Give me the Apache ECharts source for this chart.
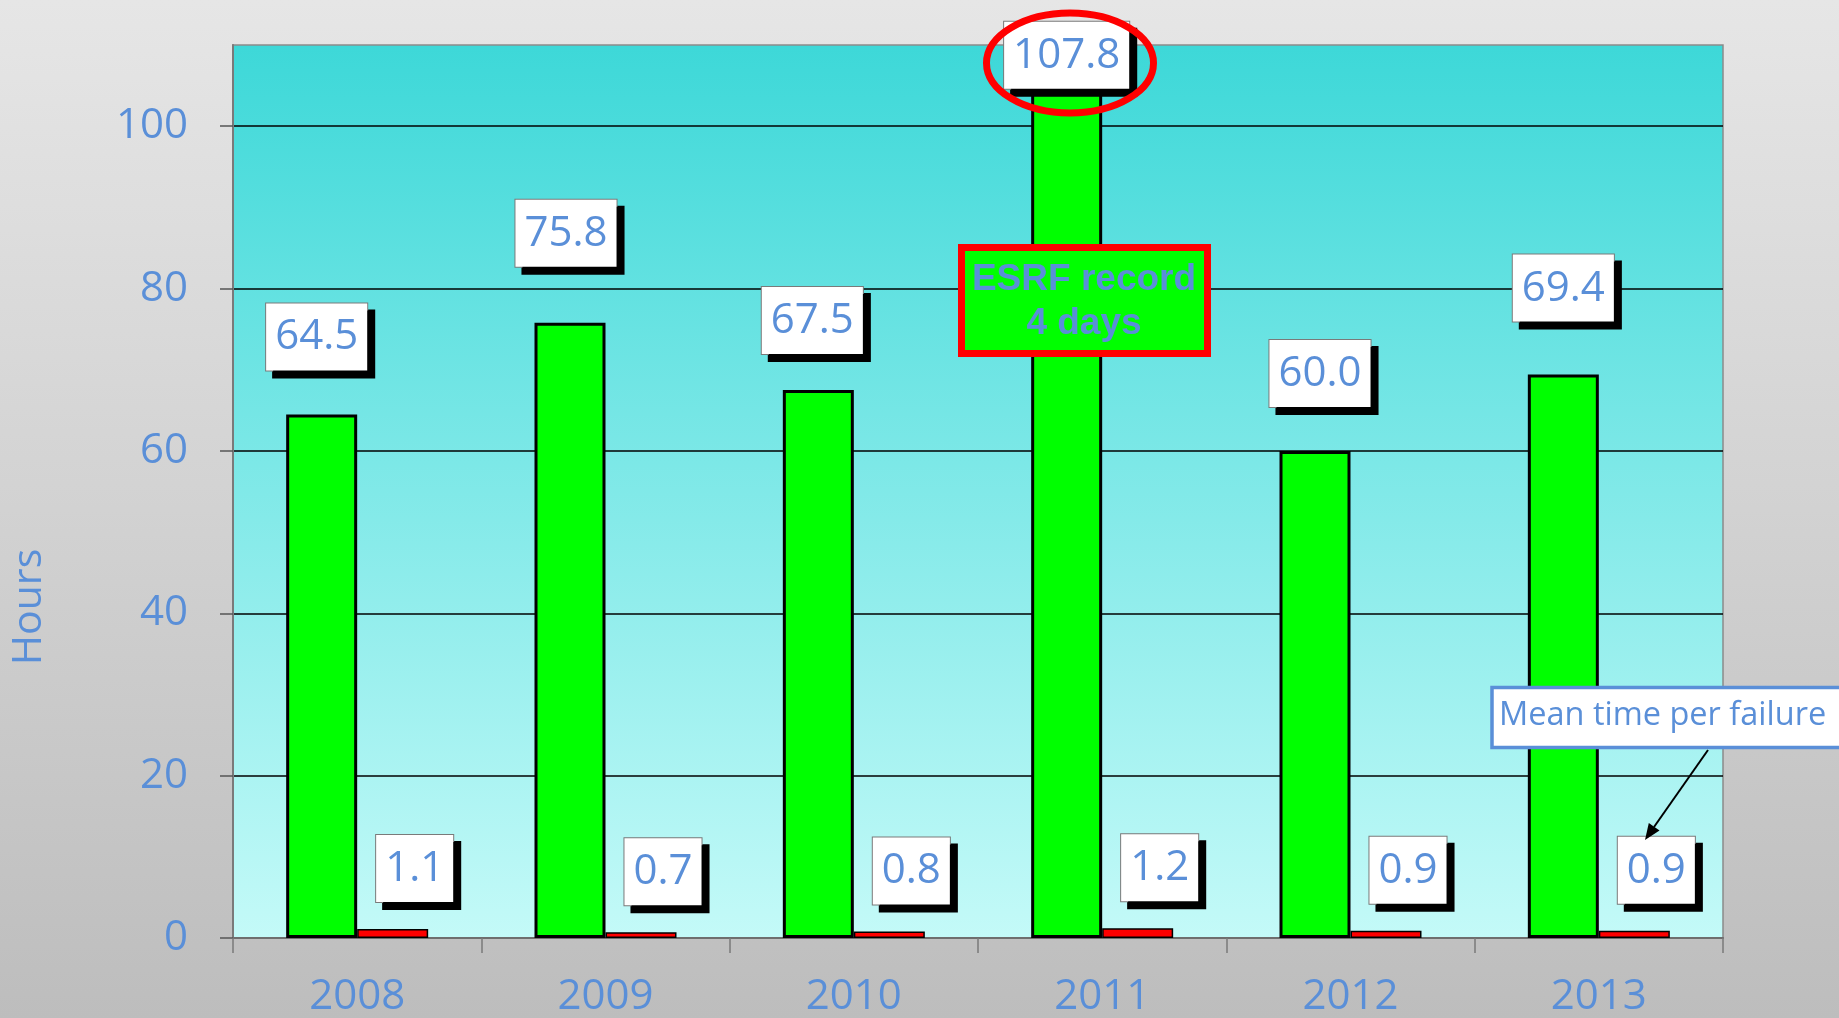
<!DOCTYPE html>
<html>
<head>
<meta charset="utf-8">
<style>
  html, body { margin: 0; padding: 0; width: 1839px; height: 1018px; overflow: hidden; background: #d4d4d4; }
  #chart { width: 1839px; height: 1018px; }
</style>
<script src="https://cdn.jsdelivr.net/npm/echarts@6/dist/echarts.min.js"></script>
</head>
<body>
<div id="chart"></div>
<script>
// ---- data ----
const years = ['2008', '2009', '2010', '2011', '2012', '2013'];
const mtbfHours = [64.5, 75.8, 67.5, 107.8, 60.0, 69.4];      // green bars
const meanTimePerFailure = [1.1, 0.7, 0.8, 1.2, 0.9, 0.9];   // red bars
const yTicks = [0, 20, 40, 60, 80, 100];
const recordIndex = 3;

// label nudges (layout only, pixels)
const greenLabelNudge = [[-5, 0], [-4, -12], [-6, 8], [0, 0], [5, 0], [0, -9]];

const BLUE = '#5A8FD8';
const FONT = 'Open Sans';

const chart = echarts.init(document.getElementById('chart'), null, { renderer: 'canvas' });

const boxLabel = {
  show: true,
  fontFamily: FONT,
  fontSize: 42,
  color: BLUE,
  backgroundColor: '#ffffff',
  borderColor: '#7a7a7a',
  borderWidth: 1,
  padding: [13, 9, 12, 9],
  shadowColor: '#000000',
  shadowBlur: 0,
  shadowOffsetX: 7,
  shadowOffsetY: 7,
  formatter: p => Number(p.value).toFixed(1)
};

const greenData = mtbfHours.map((v, i) => {
  const lbl = { offset: greenLabelNudge[i] };
  if (i === recordIndex) lbl.distance = -26;
  return { value: v, label: lbl };
});

const option = {
  backgroundColor: new echarts.graphic.LinearGradient(0, 0, 0, 1, [
    { offset: 0, color: '#e6e6e6' },
    { offset: 0.5, color: '#d2d2d2' },
    { offset: 1, color: '#bdbdbd' }
  ]),
  animation: false,
  grid: {
    left: 233, right: 116, top: 45, bottom: 80,
    show: true,
    backgroundColor: new echarts.graphic.LinearGradient(0, 0, 0, 1, [
      { offset: 0, color: '#3dd8d8' },
      { offset: 1, color: '#c4faf8' }
    ]),
    borderColor: '#8a8a8a',
    borderWidth: 1.5
  },
  xAxis: {
    type: 'category',
    data: years,
    boundaryGap: true,
    axisLine: { show: true, lineStyle: { color: '#6e6e6e', width: 2 } },
    axisTick: { show: true, length: 15, alignWithLabel: false, lineStyle: { color: '#7a7a7a', width: 1.5 } },
    axisLabel: { fontFamily: FONT, fontSize: 42, color: BLUE, margin: 38 },
    splitLine: { show: false }
  },
  yAxis: {
    type: 'value',
    min: 0,
    max: 110,
    interval: 20,
    axisLine: { show: true, lineStyle: { color: '#7a7a7a', width: 2 } },
    axisTick: { show: true, length: 13, lineStyle: { color: '#555', width: 1.5 } },
    axisLabel: {
      fontFamily: FONT, fontSize: 42, color: BLUE, margin: 45,
      showMaxLabel: false,
      formatter: v => (yTicks.indexOf(v) >= 0 ? String(v) : '')
    },
    splitLine: { show: true, showMaxLine: false, lineStyle: { color: '#000000', width: 1.5 } }
  },
  series: [
    {
      name: 'Mean time between failures',
      type: 'bar',
      data: greenData,
      barWidth: 71,
      barGap: '0%',
      itemStyle: { color: '#00ff00', borderColor: '#000000', borderWidth: 3 },
      label: Object.assign({}, boxLabel, { position: 'top', distance: 44 }),
      z: 2
    },
    {
      name: 'Mean time per failure',
      type: 'bar',
      data: meanTimePerFailure,
      barWidth: 71,
      barGap: '0%',
      itemStyle: { color: '#ff0000', borderColor: '#000000', borderWidth: 1.5 },
      label: Object.assign({}, boxLabel, { position: 'top', distance: 27, offset: [22, 0] }),
      z: 2
    }
  ],
  graphic: [
    // y-axis title
    {
      type: 'text', z: 50,
      x: 29, y: 607, rotation: Math.PI / 2,
      style: {
        text: 'Hours', fontFamily: FONT, fontSize: 41,
        fill: BLUE, align: 'center', verticalAlign: 'middle'
      }
    },
    // "ESRF record 4 days" box
    {
      type: 'rect', z: 100,
      shape: { x: 961.5, y: 247.5, width: 246, height: 106 },
      style: { fill: '#00ff00', stroke: '#ff0000', lineWidth: 7 }
    },
    {
      type: 'text', z: 101,
      x: 1084, y: 302,
      style: {
        text: 'ESRF record\n4 days',
        fontFamily: 'Liberation Sans', fontWeight: 'bold', fontSize: 37,
        lineHeight: 44,
        fill: BLUE, align: 'center', verticalAlign: 'middle'
      }
    },
    // red ellipse around the record label
    {
      type: 'ellipse', z: 102,
      shape: { cx: 1070, cy: 63, rx: 83.5, ry: 50 },
      style: { fill: 'none', stroke: '#ff0000', lineWidth: 7 }
    },
    // "Mean time per failure" callout
    {
      type: 'rect', z: 100,
      shape: { x: 1492, y: 687.5, width: 360, height: 60 },
      style: { fill: '#ffffff', stroke: BLUE, lineWidth: 3.5 }
    },
    {
      type: 'text', z: 101,
      x: 1499, y: 716,
      style: {
        text: 'Mean time per failure',
        fontFamily: FONT, fontSize: 32.5,
        fill: BLUE, align: 'left', verticalAlign: 'middle'
      }
    },
    {
      type: 'line', z: 103,
      shape: { x1: 1708, y1: 750, x2: 1654, y2: 827 },
      style: { stroke: '#000000', lineWidth: 2 }
    },
    {
      type: 'polygon', z: 103,
      shape: { points: [[1645, 840], [1659.5, 830.5], [1648.8, 823]] },
      style: { fill: '#000000' }
    }
  ]
};

chart.setOption(option);
</script>
</body>
</html>
